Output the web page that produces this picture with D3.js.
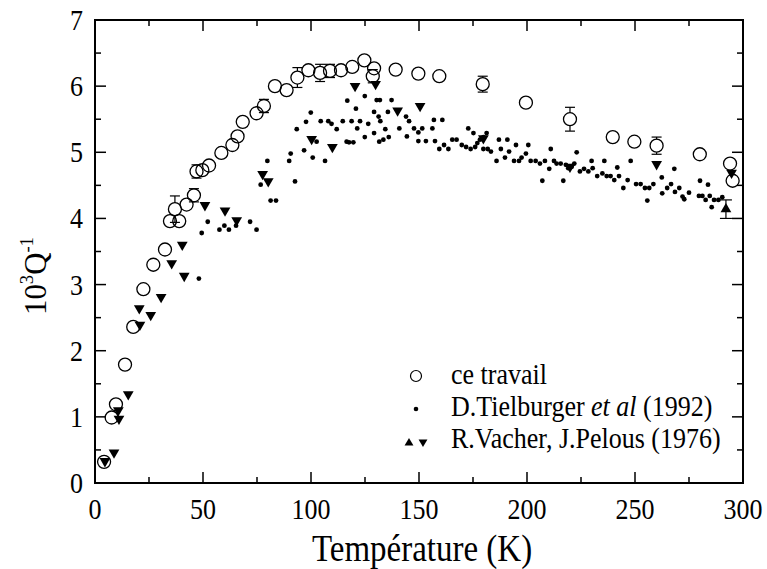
<!DOCTYPE html>
<html>
<head>
<meta charset="utf-8">
<script src="https://cdn.jsdelivr.net/npm/d3@7"></script>
<style>
body { margin: 0; background: #fff; }
</style>
</head>
<body>
<div id="chart"></div>
<script>
var width = 767,
    height = 569;

var margin = {left: 95, right: 24, top: 20, bottom: 86};
var serif = "'Liberation Serif'";

// ce travail : T (K), 10^3 Q^-1, error bar
var travailT = [4.2, 7.7, 9.7, 13.9, 17.7, 22.4, 27, 32.4, 34.7, 37, 39, 42.4, 45.8, 47, 49.7, 52.8, 58.5, 63.6, 66, 68.4, 74.8, 78.2, 83.3, 88.7, 93.7, 98.8, 104.2, 108.8, 113.9, 119.1, 124.7, 129.2, 128.6, 139.2, 149.7, 159.4, 179.5, 199.5, 219.9, 239.7, 249.7, 260, 280, 294, 295.2];
var travailQ = [0.32, 0.99, 1.19, 1.79, 2.36, 2.93, 3.30, 3.53, 3.96, 4.14, 3.96, 4.21, 4.35, 4.71, 4.73, 4.80, 4.99, 5.11, 5.24, 5.46, 5.59, 5.70, 6.00, 5.94, 6.13, 6.24, 6.20, 6.23, 6.24, 6.29, 6.39, 6.27, 6.15, 6.25, 6.19, 6.15, 6.03, 5.75, 5.50, 5.23, 5.16, 5.10, 4.97, 4.83, 4.57];
var travailErr = [0.03, 0.03, 0.03, 0.03, 0.03, 0.03, 0.03, 0.03, 0.05, 0.2, 0.05, 0.05, 0.1, 0.1, 0.05, 0.05, 0.05, 0.05, 0.08, 0.05, 0.05, 0.1, 0.05, 0.05, 0.15, 0.05, 0.13, 0.1, 0.05, 0.05, 0.05, 0.05, 0.1, 0.05, 0.05, 0.05, 0.12, 0.05, 0.18, 0.05, 0.05, 0.13, 0.05, 0.05, 0.05];

// D.Tielburger et al (1992)
var tielT = [48.1, 49.4, 52.2, 57.6, 59.9, 62, 65.3, 71.8, 74.8, 76.7, 79.8, 81.3, 83.8, 89.9, 90.6, 92.6, 93.4, 96.8, 97.7, 99.9, 100.8, 102.6, 104.5, 106.5, 108, 109.5, 111.9, 114.7, 116.8, 117.6, 119.6, 118.8, 120.8, 121.4, 122.7, 124.9, 124.9, 126.5, 129.2, 129.2, 130.4, 131.3, 131.9, 132.1, 133.5, 134.4, 135.6, 136, 137.3, 140.9, 144, 144.4, 145.4, 147.7, 149.7, 149.7, 151.5, 153.2, 156.2, 156.9, 157.4, 159.4, 160.8, 161.6, 163.6, 165.4, 167.4, 169.8, 171.8, 172.8, 173.9, 175.2, 176, 177, 178.2, 179.8, 181.3, 179.8, 181.8, 183.3, 185.9, 187, 187.9, 189.8, 190.9, 191.7, 194, 194.9, 196.3, 197.5, 199.5, 200.6, 201.7, 204, 206, 207.1, 208.3, 210.3, 211, 212.5, 213.7, 215.6, 216.8, 218, 219.1, 220.7, 221.9, 223, 224.5, 226.4, 228.4, 229.9, 230.4, 232.5, 234.9, 235.8, 236.9, 238.7, 240.4, 241.8, 242.6, 244.6, 246.6, 248, 250.5, 252.6, 254.6, 255.7, 256.6, 258.5, 262.4, 262.6, 264.9, 266.7, 268.2, 268.5, 270.5, 272, 272.8, 275, 279.6, 280.1, 281.2, 282.7, 283.8, 284.6, 285.5, 286.6, 288.6, 290.4, 116.5, 131.6];
var tielQ = [3.09, 3.78, 3.95, 3.83, 3.89, 3.83, 3.89, 3.95, 3.83, 4.51, 4.87, 4.27, 4.27, 4.87, 4.98, 4.56, 5.35, 5.03, 5.46, 5.60, 4.92, 5.16, 5.47, 4.87, 5.47, 5.43, 5.35, 5.47, 5.78, 5.15, 5.15, 5.47, 5.66, 5.36, 5.47, 5.23, 5.85, 5.43, 5.61, 5.29, 5.79, 5.54, 5.79, 5.47, 5.19, 5.35, 5.61, 5.23, 5.79, 5.36, 5.54, 5.24, 5.47, 5.36, 5.17, 5.30, 5.36, 5.17, 5.36, 5.49, 5.17, 5.05, 5.49, 5.11, 5.05, 5.19, 5.19, 5.11, 5.08, 5.36, 5.05, 5.29, 5.08, 5.14, 5.19, 5.23, 5.29, 5.05, 5.05, 5.01, 4.87, 5.19, 5.05, 4.92, 5.19, 5.01, 4.87, 5.11, 4.87, 4.92, 4.98, 5.11, 4.87, 4.87, 4.83, 4.57, 4.87, 4.75, 5.05, 4.87, 4.83, 4.83, 4.57, 4.81, 4.76, 4.78, 4.83, 5.0, 4.71, 4.75, 4.71, 4.87, 4.76, 4.64, 4.68, 4.87, 4.64, 4.64, 4.58, 4.77, 4.64, 4.46, 4.58, 4.87, 4.52, 4.52, 4.46, 4.27, 4.46, 4.52, 4.62, 4.38, 4.46, 4.52, 4.75, 4.40, 4.46, 4.33, 4.29, 4.39, 4.34, 4.57, 4.34, 4.28, 4.51, 4.34, 4.17, 4.28, 4.28, 4.32, 5.16, 5.16];

// R.Vacher, J.Pelous (1976)
var vacherDownT = [4.6, 8.8, 10.8, 11.1, 15.4, 20.5, 20.8, 25.8, 30.6, 35.5, 41.3, 40.4, 50.9, 60.2, 65.6, 77.6, 80.2, 100.3, 109.9, 120.4, 129.9, 140.1, 150.5, 179.8, 219.9, 260, 294.7];
var vacherDownQ = [0.33, 0.46, 1.10, 0.97, 1.34, 2.64, 2.39, 2.54, 2.81, 3.32, 3.13, 3.60, 4.20, 4.12, 3.97, 4.67, 4.56, 5.20, 5.08, 6.00, 6.03, 5.63, 5.70, 5.21, 4.78, 4.82, 4.69];
var vacherUpT = [292.1];
var vacherUpQ = [4.14];
var vacherUpErr = [0.14];

var xTicks = [0, 50, 100, 150, 200, 250, 300];
var yTicks = [0, 1, 2, 3, 4, 5, 6, 7];

var svg = d3.select("#chart")
    .append("svg")
    .attr("width", width)
    .attr("height", height);

var x = d3.scaleLinear().domain([0, 300]).range([margin.left, width - margin.right]);
var y = d3.scaleLinear().domain([0, 7]).range([height - margin.bottom, margin.top]);

var x0 = x.range()[0], x1 = x.range()[1], y0 = y.range()[0], y1 = y.range()[1];

// ticks, inward on all four sides
var ticks = svg.append("g").attr("stroke", "#000").attr("stroke-width", 1.5);
d3.range(0, 301, 25).forEach(function(t) {
    var len = t % 50 == 0 ? 11 : 6;
    ticks.append("line").attr("x1", x(t)).attr("x2", x(t)).attr("y1", y0).attr("y2", y0 - len);
    ticks.append("line").attr("x1", x(t)).attr("x2", x(t)).attr("y1", y1).attr("y2", y1 + len);
});
d3.range(0, 7.01, 0.5).forEach(function(v) {
    var len = v % 1 == 0 ? 11 : 6;
    ticks.append("line").attr("x1", x0).attr("x2", x0 + len).attr("y1", y(v)).attr("y2", y(v));
    ticks.append("line").attr("x1", x1).attr("x2", x1 - len).attr("y1", y(v)).attr("y2", y(v));
});

svg.append("rect")
    .attr("x", x0).attr("y", y1)
    .attr("width", x1 - x0).attr("height", y0 - y1)
    .attr("fill", "none").attr("stroke", "#000").attr("stroke-width", 2);

// tick labels (slightly stretched vertically like the original)
svg.selectAll(".xlab").data(xTicks).enter().append("text")
    .attr("transform", function(d) { return "translate(" + x(d) + "," + (y0 + 36) + ") scale(1,1.12)"; })
    .attr("text-anchor", "middle")
    .style("font-family", serif)
    .style("font-size", "26px")
    .text(function(d) { return d; });

svg.selectAll(".ylab").data(yTicks).enter().append("text")
    .attr("transform", function(d) { return "translate(" + (x0 - 12) + "," + (y(d) + 10) + ") scale(1,1.12)"; })
    .attr("text-anchor", "end")
    .style("font-family", serif)
    .style("font-size", "26px")
    .text(function(d) { return d; });

// axis titles
svg.append("text")
    .attr("transform", "translate(" + ((x0 + x1) / 2 + 3) + ",561) scale(1,1.15)")
    .attr("text-anchor", "middle")
    .style("font-family", serif)
    .style("font-size", "33px")
    .text("Température (K)");

var ylab = svg.append("text")
    .attr("transform", "translate(46,276) rotate(-90) scale(1.1,1.15)")
    .attr("text-anchor", "middle")
    .style("font-family", serif)
    .style("font-size", "28px");
ylab.append("tspan").text("10");
ylab.append("tspan").attr("dy", -11).style("font-size", "17px").text("3");
ylab.append("tspan").attr("dy", 11).text("Q");
ylab.append("tspan").attr("dy", -11).style("font-size", "17px").text("-1");

// error bars for ce travail (outside the circle only)
var r = 6.5;
var travail = travailT.map(function(t, i) { return {t: t, q: travailQ[i], e: travailErr[i]}; });
var eb = svg.append("g").attr("stroke", "#000").attr("stroke-width", 1.2);
travail.forEach(function(d) {
    var cx = x(d.t), top = y(d.q + d.e), bot = y(d.q - d.e), cy = y(d.q);
    if (cy - top > r) {
        eb.append("line").attr("x1", cx).attr("x2", cx).attr("y1", top).attr("y2", cy - r);
        eb.append("line").attr("x1", cx - 5).attr("x2", cx + 5).attr("y1", top).attr("y2", top);
        eb.append("line").attr("x1", cx).attr("x2", cx).attr("y1", bot).attr("y2", cy + r);
        eb.append("line").attr("x1", cx - 5).attr("x2", cx + 5).attr("y1", bot).attr("y2", bot);
    }
});

// Tielburger dots
svg.append("g").selectAll("circle")
    .data(tielT.map(function(t, i) { return [t, tielQ[i]]; }))
    .enter().append("circle")
    .attr("cx", function(d) { return x(d[0]); })
    .attr("cy", function(d) { return y(d[1]); })
    .attr("r", 2.4)
    .attr("fill", "#000");

// Vacher triangles
var tri = d3.symbol().type(d3.symbolTriangle).size(50);
svg.append("g").selectAll("path")
    .data(vacherDownT.map(function(t, i) { return [t, vacherDownQ[i]]; }))
    .enter().append("path")
    .attr("d", tri)
    .attr("transform", function(d) { return "translate(" + x(d[0]) + "," + y(d[1]) + ") rotate(180)"; })
    .attr("fill", "#000");

vacherUpT.forEach(function(t, i) {
    var cx = x(t), cy = y(vacherUpQ[i]);
    var top = y(vacherUpQ[i] + vacherUpErr[i]), bot = y(vacherUpQ[i] - vacherUpErr[i]);
    eb.append("line").attr("x1", cx).attr("x2", cx).attr("y1", top).attr("y2", bot);
    eb.append("line").attr("x1", cx - 6).attr("x2", cx + 6).attr("y1", top).attr("y2", top);
    eb.append("line").attr("x1", cx - 6).attr("x2", cx + 6).attr("y1", bot).attr("y2", bot);
    svg.append("path").attr("d", tri)
        .attr("transform", "translate(" + cx + "," + cy + ")")
        .attr("fill", "#000");
});

// ce travail circles
svg.append("g").selectAll("circle")
    .data(travail)
    .enter().append("circle")
    .attr("cx", function(d) { return x(d.t); })
    .attr("cy", function(d) { return y(d.q); })
    .attr("r", r)
    .attr("fill", "none")
    .attr("stroke", "#000")
    .attr("stroke-width", 1.3);

// legend
var lg = svg.append("g");
lg.append("circle").attr("cx", 416).attr("cy", 376).attr("r", 5.5)
    .attr("fill", "none").attr("stroke", "#000").attr("stroke-width", 1.2);
lg.append("circle").attr("cx", 416).attr("cy", 409).attr("r", 2.3).attr("fill", "#000");
var tiny = d3.symbol().type(d3.symbolTriangle).size(34);
lg.append("path").attr("d", tiny).attr("transform", "translate(409,443)").attr("fill", "#000");
lg.append("path").attr("d", tiny).attr("transform", "translate(423,442) rotate(180)").attr("fill", "#000");

function legendText(yy) {
    return lg.append("text")
        .attr("transform", "translate(451," + yy + ") scale(1,1.12)")
        .style("font-family", serif)
        .style("font-size", "26px");
}
legendText(384).text("ce travail");
var t2 = legendText(416);
t2.append("tspan").text("D.Tielburger ");
t2.append("tspan").style("font-style", "italic").text("et al");
t2.append("tspan").text(" (1992)");
legendText(448).text("R.Vacher, J.Pelous (1976)");
</script>
</body>
</html>
